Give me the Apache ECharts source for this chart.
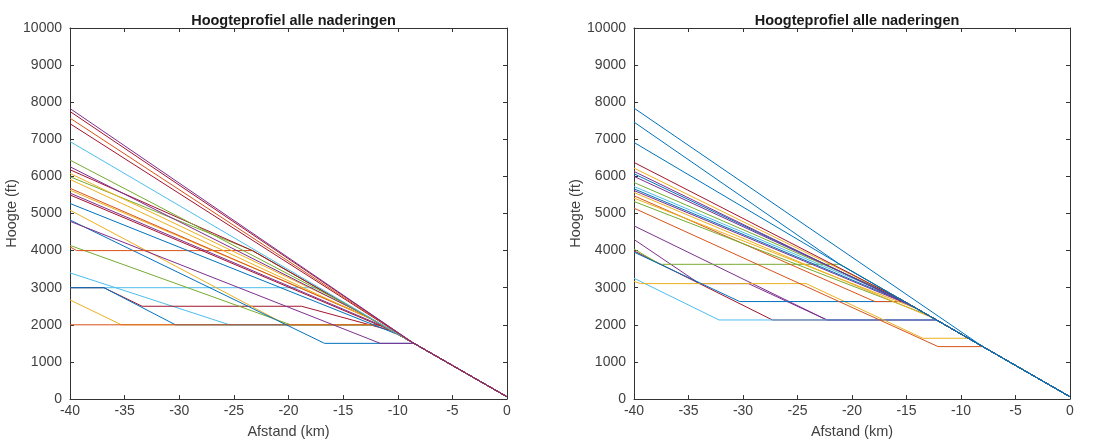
<!DOCTYPE html>
<html><head><meta charset="utf-8">
<script src="https://cdn.jsdelivr.net/npm/echarts@6/dist/echarts.min.js"></script>
<style>html,body{margin:0;padding:0;background:#fff}#c{width:1113px;height:445px}</style>
</head><body><div id="c"></div>
<script>
// ---- data ----
const chartTitle = 'Hoogteprofiel alle naderingen';
const xName = 'Afstand (km)';
const yName = 'Hoogte (ft)';
const xRange = [-40, 0], xStep = 5;
const yRange = [0, 10000], yStep = 1000;

// left panel: each approach is a polyline of [distance km, height ft]
const leftLines = [
  [[-40,2670],[-35.3,2000],[-11.5,2000],[0,60]],
  [[-40,3400],[-25.4,2000],[-11.5,2000],[0,60]],
  [[-40,3000],[-17.4,3000],[0,60]],
  [[-40,3000],[-36.9,3000],[-33.4,2500],[-18.8,2500],[-10.5,1835],[0,60]],
  [[-40,3000],[-36.9,3000],[-30.35,2000],[-11.5,2000],[0,60]],
  [[-40,4140],[-19.8,2000],[-11.5,2000],[0,60]],
  [[-40,5090],[-20.2,2000],[-11.5,2000],[0,60]],
  [[-40,2000],[-11.5,2000],[0,60]],
  [[-40,4824],[-16.7,1500],[-8.5,1500],[0,60]],
  [[-40,4790],[-11.6,1500],[-8.5,1500],[0,60]],
  [[-40,4100],[-39.4,4000],[-23.3,4000],[0,60]],
  [[-40,5270],[-9.8,1715],[0,60]],
  [[-40,5500],[-10.5,1835],[0,60]],
  [[-40,5550],[-11,1920],[0,60]],
  [[-40,5630],[-13,2255],[0,60]],
  [[-40,5680],[-12.5,2170],[0,60]],
  [[-40,5920],[-12,2090],[0,60]],
  [[-40,5990],[-23.3,4000],[0,60]],
  [[-40,6080],[-14,2425],[0,60]],
  [[-40,6180],[-23.3,4000],[0,60]],
  [[-40,6260],[-13.5,2340],[0,60]],
  [[-40,6440],[-15,2595],[0,60]],
  [[-40,6940],[-8.6,1515],[0,60]],
  [[-40,7420],[-8.6,1515],[0,60]],
  [[-40,7570],[-8.6,1515],[0,60]],
  [[-40,7750],[-8.6,1515],[0,60]],
  [[-40,7830],[-8.6,1515],[0,60]]
];
const leftColorKeys = ['Y','C','C','R','B','G','Y','O','B','P','O','B','R','P','Y','O','Y','G','Y','R','P','G','C','R','O','R','P'];

// right panel
const rightLines = [
  [[-40,3990],[-27.3,2130],[-12.25,2130],[0,60]],
  [[-40,4667],[-22.3,2130],[-12.25,2130],[0,60]],
  [[-40,4300],[-34.0,3110],[-29.5,3110],[-22.3,2130],[-12.25,2130],[0,60]],
  [[-40,3255],[-32.2,2130],[-12.25,2130],[0,60]],
  [[-40,3170],[-39.4,3110],[-24.2,3110],[-13.5,1637],[-9.3,1637],[0,60]],
  [[-40,4040],[-37.6,3630],[-21.1,3630],[0,60]],
  [[-40,3960],[-30.3,2626],[-15.2,2626],[0,60]],
  [[-40,5477],[-17.9,2626],[-15.2,2626],[0,60]],
  [[-40,5144],[-12.1,1412],[-8,1412],[0,60]],
  [[-40,5324],[-13,2257],[0,60]],
  [[-40,5414],[-14,2426],[0,60]],
  [[-40,5566],[-12.5,2173],[0,60]],
  [[-40,5620],[-14.5,2510],[0,60]],
  [[-40,5665],[-15,2595],[0,60]],
  [[-40,5728],[-16,2764],[0,60]],
  [[-40,5836],[-16.5,2849],[0,60]],
  [[-40,6000],[-15.5,2680],[0,60]],
  [[-40,6070],[-15,2595],[0,60]],
  [[-40,6133],[-14,2426],[0,60]],
  [[-40,6223],[-16,2764],[0,60]],
  [[-40,6376],[-15.5,2680],[0,60]],
  [[-40,6915],[-21.1,3626],[0,60]],
  [[-40,7464],[-21.1,3626],[0,60]],
  [[-40,7840],[-8,1412],[0,60]]
];
const rightColorKeys = ['R','P','P','C','Y','G','B','O','O','G','Y','Y','P','B','C','G','P','B','P','Y','R','B','B','B'];

// ---- styling ----
const palette = {B:'#0072BD',O:'#D95319',Y:'#EDB120',P:'#7E2F8E',G:'#77AC30',C:'#4DBEEE',R:'#A2142F'};
const FONT = 'Liberation Sans, Arial, sans-serif';
const axisColor = '#333333';
const textColor = '#404040';
const grids = [
  {left:70, top:28, width:437, height:371},
  {left:634, top:28, width:436, height:371}
];
const xAxes = [], yAxes = [], titles = [], series = [];
const plain = v => String(v);
grids.forEach((g, i) => {
  titles.push({text: chartTitle, left: g.left + g.width/2, top: 8, textAlign:'center',
    textStyle:{fontFamily:FONT, fontSize:14.5, fontWeight:'bold', color:'#1a1a1a'}});
  const common = {min:xRange[0], max:xRange[1], interval:xStep, gridIndex:i,
    axisLine:{show:true, onZero:false, lineStyle:{color:axisColor, width:1}},
    axisTick:{show:true, inside:true, length:4, lineStyle:{color:axisColor}},
    splitLine:{show:false}};
  xAxes.push(Object.assign({type:'value', position:'bottom', name:xName, nameLocation:'middle', nameGap:25,
    nameTextStyle:{fontFamily:FONT, fontSize:14.5, color:textColor},
    axisLabel:{fontFamily:FONT, fontSize:14, color:textColor, margin:5, formatter:plain}}, common));
  xAxes.push(Object.assign({type:'value', position:'top', axisLabel:{show:false}}, common));
  const ycommon = {min:yRange[0], max:yRange[1], interval:yStep, gridIndex:i,
    axisLine:{show:true, onZero:false, lineStyle:{color:axisColor, width:1}},
    axisTick:{show:true, inside:true, length:4, lineStyle:{color:axisColor}},
    splitLine:{show:false}};
  yAxes.push(Object.assign({type:'value', position:'left', name:yName, nameLocation:'middle', nameGap:47,
    nameTextStyle:{fontFamily:FONT, fontSize:14.5, color:textColor},
    axisLabel:{fontFamily:FONT, fontSize:14, color:textColor, margin:8, formatter:plain}}, ycommon));
  yAxes.push(Object.assign({type:'value', position:'right', axisLabel:{show:false}}, ycommon));
});
function addSeries(lines, keys, gi){
  lines.forEach((pts, k) => {
    series.push({type:'line', xAxisIndex:gi*2, yAxisIndex:gi*2, data:pts, symbol:'none',
      lineStyle:{width:1, color:palette[keys[k]]}, silent:true, z:2+k/100});
  });
}
addSeries(leftLines, leftColorKeys, 0);
addSeries(rightLines, rightColorKeys, 1);

const chart = echarts.init(document.getElementById('c'), null, {renderer:'canvas'});
chart.setOption({animation:false, backgroundColor:'#fff', title:titles, grid:grids,
  xAxis:xAxes, yAxis:yAxes, series:series});
</script></body></html>
